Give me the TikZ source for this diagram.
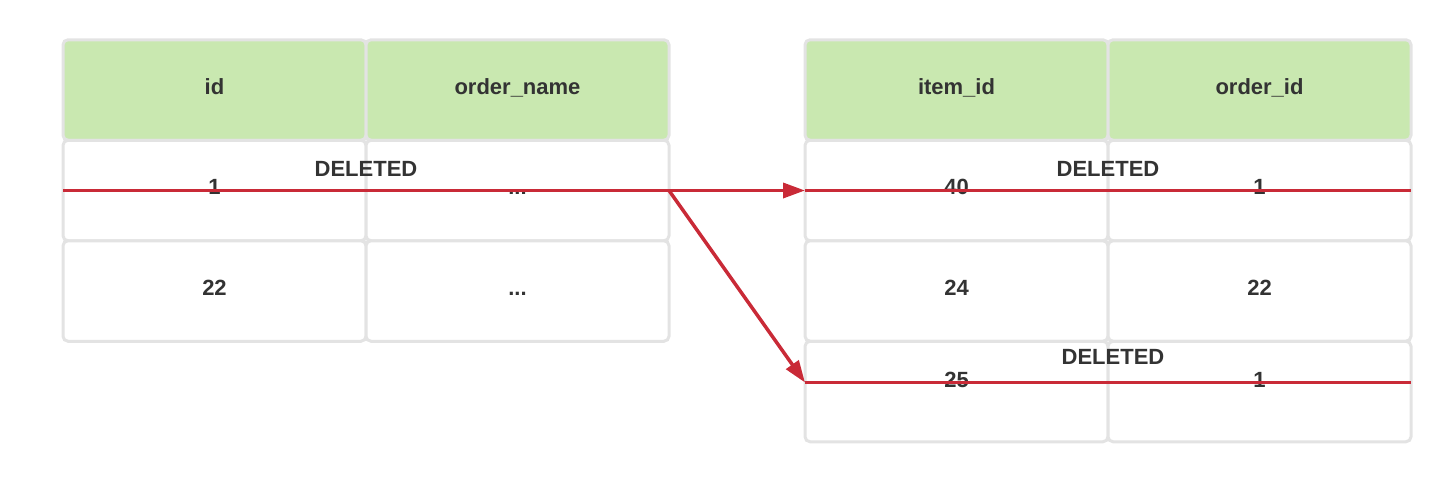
\documentclass[tikz,border=0pt]{standalone}
\usepackage{fontspec}
\setmainfont{Liberation Sans}
\usetikzlibrary{positioning,arrows.meta}
\definecolor{headgreen}{RGB}{201,232,176}
\definecolor{cellgray}{RGB}{227,227,227}
\definecolor{delred}{RGB}{201,42,55}
\definecolor{txtgray}{RGB}{51,51,51}
\tikzset{%
	cell/.style={draw=cellgray, line width=3pt, rounded corners=5pt, fill=white, minimum width=303pt, minimum height=100.5pt, inner sep=0pt, outer sep=0pt, text=txtgray, font=\fontsize{22}{26}\selectfont\bfseries, text height=14pt, text depth=6pt},
	head/.style={cell, fill=headgreen},
	lowcell/.style={cell, text depth=22pt},
	del/.style={draw=delred, line width=3.5pt},
	arrow/.style={del, -{Triangle[length=22pt,width=15pt]}},
	deltext/.style={text=txtgray, font=\fontsize{22}{26}\selectfont\bfseries, inner sep=0pt}}

\begin{document}
\begin{tikzpicture}[x=1pt,y=-1pt]
		\useasboundingbox (0,0) rectangle (1453,483);
		% orders
		\node[head] (ID) at (214.5,90) {id};
		\node[head] (ON) [right=0pt of ID] {order\_name};
		\node[cell] (ID1) [below=0pt of ID] {1};
		\node[cell] (ON1) [below=0pt of ON] {...};
		\node[cell] (ID2) [below=0pt of ID1] {22};
		\node[cell] (ON2) [below=0pt of ON1] {...};
		% items
		\node[head] (IID) at (956.5,90) {item\_id};
		\node[head] (OID) [right=0pt of IID] {order\_id};
		\node[cell] (IID1) [below=0pt of IID] {40};
		\node[cell] (OID1) [below=0pt of OID] {1};
		\node[cell] (IID2) [below=0pt of IID1] {24};
		\node[cell] (OID2) [below=0pt of OID1] {22};
		\node[lowcell] (IID3) [below=0pt of IID2] {25};
		\node[lowcell] (OID3) [below=0pt of OID2] {1};
		
		\node[deltext] (DEL1) at ([yshift=22pt]ID1.east) {DELETED};
		\node[deltext] (DEL2) at ([yshift=22pt]IID1.east) {DELETED};
		\node[deltext] (DEL3) at ([xshift=5pt,yshift=35pt]IID3.east) {DELETED};
		
		\draw[del] (ID1.west) -- (ON1.east);
		\draw[del] (IID1.west) -- (OID1.east);
		\draw[del] ([yshift=9pt]IID3.west) -- ([yshift=9pt]OID3.east);
		\draw[arrow] (ON1.east) -- (IID1.west);
		\draw[arrow] (ON1.east) -- ([yshift=9pt]IID3.west);
	\end{tikzpicture}
\end{document}
